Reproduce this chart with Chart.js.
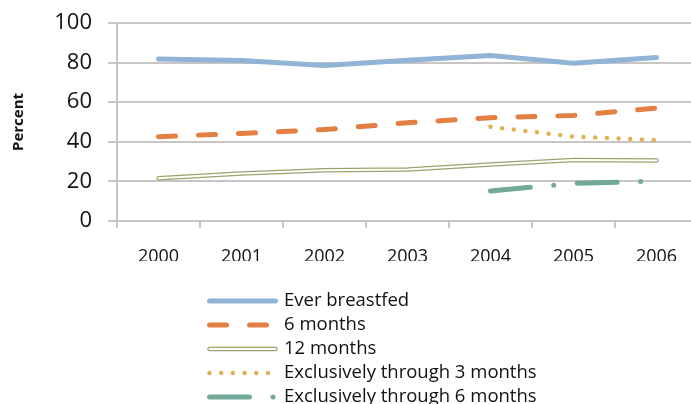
<!DOCTYPE html>
<html>
<head>
<meta charset="utf-8">
<script src="https://cdn.jsdelivr.net/npm/chart.js@4"></script>
<style>
  html, body { margin: 0; padding: 0; background: #fff; overflow: hidden; }
  #wrap { width: 720px; height: 404px; }
</style>
</head>
<body>
<div id="wrap"><canvas id="breastfeedingChart" width="720" height="404"></canvas></div>
<script>
const years = ['2000', '2001', '2002', '2003', '2004', '2005', '2006'];
const everBreastfed = [81.8, 81.0, 78.5, 81.2, 83.6, 79.7, 82.6];
const sixMonths = [42.6, 44.2, 46.2, 49.6, 52.2, 53.3, 57.0];
const twelveMonths = [21.6, 24.0, 25.6, 26.0, 28.5, 30.8, 30.6];
const exclusive3 = [null, null, null, null, 47.6, 42.6, 40.8];
const exclusive6 = [null, null, null, null, 15.2, 19.0, 20.2];
const yTicks = [0, 20, 40, 60, 80, 100];

const gridGrey = '#c6c6c6';
const font = "'Open Sans', 'DejaVu Sans', sans-serif";

// line styles shared by the plot and the legend
const styles = {
  ever:  { color: '#8fb4d6', width: 5, dash: [] },
  six:   { color: '#e47f43', width: 5, dash: [17, 23] },
  twelve:{ color: '#9da26c', width: 4.5, dash: [], inner: '#ffffff', innerWidth: 2 },
  ex3:   { color: '#e0b152', width: 4.5, dash: [0, 11.7] },
  ex6:   { color: '#72a99a', width: 5, dash: [40, 23.5, 0, 23.5] }
};

function lineSet(label, data, s, order) {
  return {
    label: label,
    data: data,
    borderColor: s.color,
    backgroundColor: s.color,
    borderWidth: s.width,
    borderDash: s.dash,
    borderCapStyle: 'round',
    borderJoinStyle: 'round',
    pointRadius: 0,
    tension: 0,
    fill: false,
    order: order
  };
}

const legendItems = [
  { text: 'Ever breastfed', s: styles.ever },
  { text: '6 months', s: styles.six },
  { text: '12 months', s: styles.twelve },
  { text: 'Exclusively through 3 months', s: styles.ex3 },
  { text: 'Exclusively through 6 months', s: styles.ex6 }
];

// legend below the plot: line sample + label per row
const sampleLegend = {
  id: 'sampleLegend',
  afterDraw(chart) {
    const ctx = chart.ctx;
    const x0 = 209.5, x1 = 275.5, textX = 284, top = 301, row = 24;
    ctx.save();
    ctx.font = '18.5px ' + font;
    ctx.textBaseline = 'middle';
    ctx.textAlign = 'left';
    ctx.lineCap = 'round';
    legendItems.forEach((it, i) => {
      const y = top + i * row;
      ctx.beginPath();
      ctx.setLineDash(it.s.dash);
      ctx.strokeStyle = it.s.color;
      ctx.lineWidth = it.s.width;
      ctx.moveTo(x0, y);
      ctx.lineTo(x1, y);
      ctx.stroke();
      if (it.s.inner) {
        ctx.beginPath();
        ctx.strokeStyle = it.s.inner;
        ctx.lineWidth = it.s.innerWidth;
        ctx.moveTo(x0, y);
        ctx.lineTo(x1, y);
        ctx.stroke();
      }
      ctx.setLineDash([]);
      ctx.fillStyle = '#111';
      ctx.fillText(it.text, textX, y);
    });
    ctx.restore();
  }
};

const twelveInner = lineSet('12 months inner', twelveMonths, {
  color: styles.twelve.inner, width: styles.twelve.innerWidth, dash: []
}, 3);

new Chart(document.getElementById('breastfeedingChart'), {
  type: 'line',
  data: {
    labels: years,
    datasets: [
      lineSet('Ever breastfed', everBreastfed, styles.ever, 0),
      lineSet('6 months', sixMonths, styles.six, 1),
      twelveInner,
      lineSet('12 months', twelveMonths, styles.twelve, 4),
      lineSet('Exclusively through 3 months', exclusive3, styles.ex3, 2),
      lineSet('Exclusively through 6 months', exclusive6, styles.ex6, 2)
    ]
  },
  options: {
    responsive: false,
    animation: false,
    layout: { padding: { top: 23, left: 0, right: 22, bottom: 143 } },
    plugins: {
      legend: { display: false },
      tooltip: { enabled: false }
    },
    scales: {
      x: {
        offset: true,
        grid: { offset: true, drawOnChartArea: false, drawTicks: true, tickLength: 7, color: gridGrey, lineWidth: 2 },
        border: { display: true, color: gridGrey, width: 2 },
        ticks: { color: '#111', font: { family: font, size: 18 }, padding: 18, maxRotation: 0 },
        afterFit(scale) {
          scale.height = 40;
          scale.paddingLeft = 0;
          scale.paddingRight = 0;
        }
      },
      y: {
        min: 0,
        max: 100,
        afterBuildTicks(scale) { scale.ticks = yTicks.map(v => ({ value: v })); },
        grid: { color: gridGrey, lineWidth: 2, tickLength: 9 },
        border: { display: true, color: gridGrey, width: 2 },
        ticks: { color: '#111', font: { family: font, size: 22 }, padding: 16 },
        title: {
          display: true,
          text: 'Percent',
          color: '#111',
          font: { family: font, size: 15, weight: 'bold' },
          padding: { top: 10, bottom: 0 }
        },
        afterFit(scale) {
          scale.width = 117;
          // keep the top/bottom tick labels from pushing the plot area
          scale.paddingTop = 0;
          scale.paddingBottom = 0;
        }
      }
    }
  },
  plugins: [sampleLegend]
});
</script>
</body>
</html>
